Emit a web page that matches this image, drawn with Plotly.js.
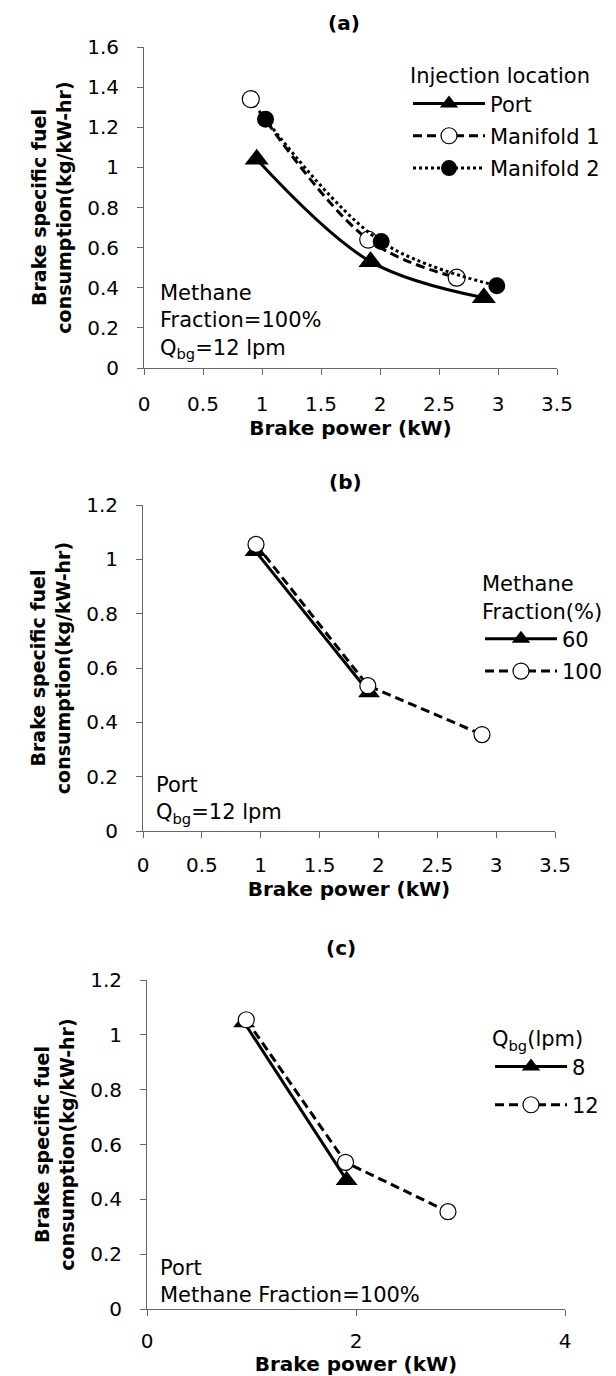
<!DOCTYPE html>
<html>
<head>
<meta charset="utf-8">
<script src="https://cdn.plot.ly/plotly-3.0.1.min.js"></script>
<style>
  html, body { margin: 0; padding: 0; background: #fff; }
  #chart { width: 616px; height: 1376px; }
</style>
</head>
<body>
<div id="chart"></div>
<script>
// ---- Data ----
// Panel (a): injection location (Methane fraction 100%, Qbg = 12 lpm)
const portX = [0.955, 1.92, 2.88];
const portY = [1.04, 0.53, 0.35];
const man1X = [0.905, 1.90, 2.65];
const man1Y = [1.34, 0.64, 0.45];
const man2X = [1.03, 2.01, 2.99];
const man2Y = [1.24, 0.63, 0.41];
const seriesNamesA = ['Port', 'Manifold 1', 'Manifold 2'];

// Panel (b): methane fraction (Port, Qbg = 12 lpm)
const mf60X = [0.955, 1.92];
const mf60Y = [1.03, 0.51];
const mf100X = [0.96, 1.91, 2.88];
const mf100Y = [1.055, 0.535, 0.355];
const seriesNamesB = ['60', '100'];

// Panel (c): biogas flow rate (Port, methane fraction 100%)
const q8X = [0.93, 1.91];
const q8Y = [1.045, 0.47];
const q12X = [0.95, 1.90, 2.88];
const q12Y = [1.055, 0.535, 0.355];
const seriesNamesC = ['8', '12'];

const xTitle = 'Brake power (kW)';
const yTitle = 'Brake specific fuel<br>consumption(kg/kW-hr)';

// ---- Styling ----
const FONT = '"DejaVu Sans", "Liberation Sans", sans-serif';
const AXC = '#666666';

function xAxis(domain, range, dtick, anchor, lblGap, titleGap) {
  return {
    domain: domain, range: range, dtick: dtick, tick0: 0, anchor: anchor,
    showline: true, linecolor: AXC, linewidth: 1,
    ticks: 'outside', ticklen: 6, tickcolor: AXC, tickwidth: 1,
    showgrid: false, zeroline: false,
    tickfont: { family: FONT, size: 20, color: '#000' },
    ticklabelstandoff: lblGap,
    title: { text: xTitle, font: { family: FONT, size: 20, color: '#000', weight: 'bold' }, standoff: titleGap },
    fixedrange: true
  };
}
function yAxis(domain, range, anchor) {
  return {
    domain: domain, range: range, dtick: 0.2, tick0: 0, anchor: anchor,
    showline: true, linecolor: AXC, linewidth: 1,
    ticks: 'outside', ticklen: 6, tickcolor: AXC, tickwidth: 1,
    showgrid: false, zeroline: false,
    tickfont: { family: FONT, size: 20, color: '#000' },
    ticklabelstandoff: 14,
    title: { text: yTitle, font: { family: FONT, size: 19, color: '#000', weight: 'bold' }, standoff: 10 },
    fixedrange: true
  };
}

const solid = { color: '#000', width: 3, dash: 'solid' };
const dashed = { color: '#000', width: 3, dash: '9px,5px' };
const dotted = { color: '#000', width: 3, dash: 'dot' };

const traces = [
  // (a)
  { x: portX, y: portY, name: seriesNamesA[0], xaxis: 'x', yaxis: 'y', legend: 'legend', legendgroup: 'a1',
    mode: 'lines+markers', line: Object.assign({ shape: 'spline', smoothing: 1 }, solid),
    marker: { symbol: 'triangle-up', size: 21, color: '#000' } },
  { x: man1X, y: man1Y, name: seriesNamesA[1], xaxis: 'x', yaxis: 'y', legend: 'legend', legendgroup: 'a2',
    mode: 'lines+markers', line: Object.assign({ shape: 'spline', smoothing: 1 }, dashed),
    marker: { symbol: 'circle', size: 17, color: '#fff', line: { color: '#000', width: 1.2 } } },
  { x: man2X, y: man2Y, name: seriesNamesA[2], xaxis: 'x', yaxis: 'y', legend: 'legend', legendgroup: 'a3',
    mode: 'lines+markers', line: Object.assign({ shape: 'spline', smoothing: 1 }, dotted),
    marker: { symbol: 'circle', size: 17, color: '#000' } },
  // (b)
  { x: mf60X, y: mf60Y, name: seriesNamesB[0], xaxis: 'x2', yaxis: 'y2', legend: 'legend2', legendgroup: 'b1',
    mode: 'lines+markers', line: solid,
    marker: { symbol: 'triangle-up', size: 19, color: '#000' } },
  { x: mf100X, y: mf100Y, name: seriesNamesB[1], xaxis: 'x2', yaxis: 'y2', legend: 'legend2', legendgroup: 'b2',
    mode: 'lines+markers', line: dashed,
    marker: { symbol: 'circle', size: 16, color: '#fff', line: { color: '#000', width: 1.2 } } },
  // (c)
  { x: q8X, y: q8Y, name: seriesNamesC[0], xaxis: 'x3', yaxis: 'y3', legend: 'legend3', legendgroup: 'c1',
    mode: 'lines+markers', line: solid,
    marker: { symbol: 'triangle-up', size: 19, color: '#000' } },
  { x: q12X, y: q12Y, name: seriesNamesC[1], xaxis: 'x3', yaxis: 'y3', legend: 'legend3', legendgroup: 'c2',
    mode: 'lines+markers', line: dashed,
    marker: { symbol: 'circle', size: 16, color: '#fff', line: { color: '#000', width: 1.2 } } }
];

function legendCfg(x, y, title, gap) {
  return {
    x: x, y: y, xanchor: 'left', yanchor: 'top', xref: 'paper', yref: 'paper',
    bgcolor: 'rgba(0,0,0,0)', borderwidth: 0,
    font: { family: FONT, size: 21, color: '#000' },
    title: { text: title, font: { family: FONT, size: 21, color: '#000' }, side: 'top' },
    itemwidth: 72, tracegroupgap: gap, itemclick: false, itemdoubleclick: false
  };
}

const annFont = { family: FONT, size: 21, color: '#000' };
const layout = {
  width: 616, height: 1376,
  margin: { l: 0, r: 0, t: 0, b: 0 },
  paper_bgcolor: '#fff', plot_bgcolor: 'rgba(0,0,0,0)',
  showlegend: true,
  xaxis: xAxis([144/616, 557/616], [0, 3.5], 0.5, 'y', 12, 4),
  yaxis: yAxis([1008/1376, 1329/1376], [0, 1.6], 'x'),
  xaxis2: xAxis([143/616, 555/616], [0, 3.5], 0.5, 'y2', 10, 4),
  yaxis2: yAxis([545/1376, 871/1376], [0, 1.2], 'x2'),
  xaxis3: xAxis([147/616, 565/616], [0, 4], 2, 'y3', 8, 6),
  yaxis3: yAxis([67/1376, 396/1376], [0, 1.2], 'x3'),
  legend: legendCfg(408/616, 1320/1376, 'Injection location', 2),
  legend2: legendCfg(480/616, 812/1376, 'Methane<br>Fraction(%)', 2),
  legend3: legendCfg(490/616, 357/1376, 'Q<sub>bg</sub>(lpm)', 8),
  annotations: [
    { text: '<b>(a)</b>', xref: 'paper', yref: 'paper', x: 344/616, y: (1376-23)/1376, showarrow: false,
      font: { family: FONT, size: 20, color: '#000' }, xanchor: 'center', yanchor: 'middle' },
    { text: '<b>(b)</b>', xref: 'paper', yref: 'paper', x: 345/616, y: (1376-482)/1376, showarrow: false,
      font: { family: FONT, size: 20, color: '#000' }, xanchor: 'center', yanchor: 'middle' },
    { text: '<b>(c)</b>', xref: 'paper', yref: 'paper', x: 341/616, y: (1376-948)/1376, showarrow: false,
      font: { family: FONT, size: 20, color: '#000' }, xanchor: 'center', yanchor: 'middle' },
    { text: 'Methane<br>Fraction=100%<br>Q<sub>bg</sub>=12 lpm', xref: 'paper', yref: 'paper',
      x: 158/616, y: (1376-322)/1376, showarrow: false, font: annFont, align: 'left',
      xanchor: 'left', yanchor: 'middle' },
    { text: 'Port<br>Q<sub>bg</sub>=12 lpm', xref: 'paper', yref: 'paper',
      x: 154/616, y: (1376-800)/1376, showarrow: false, font: annFont, align: 'left',
      xanchor: 'left', yanchor: 'middle' },
    { text: 'Port<br>Methane Fraction=100%', xref: 'paper', yref: 'paper',
      x: 158/616, y: (1376-1281)/1376, showarrow: false, font: annFont, align: 'left',
      xanchor: 'left', yanchor: 'middle' }
  ]
};

Plotly.newPlot('chart', traces, layout, { displayModeBar: false, staticPlot: true });
</script>
</body>
</html>
